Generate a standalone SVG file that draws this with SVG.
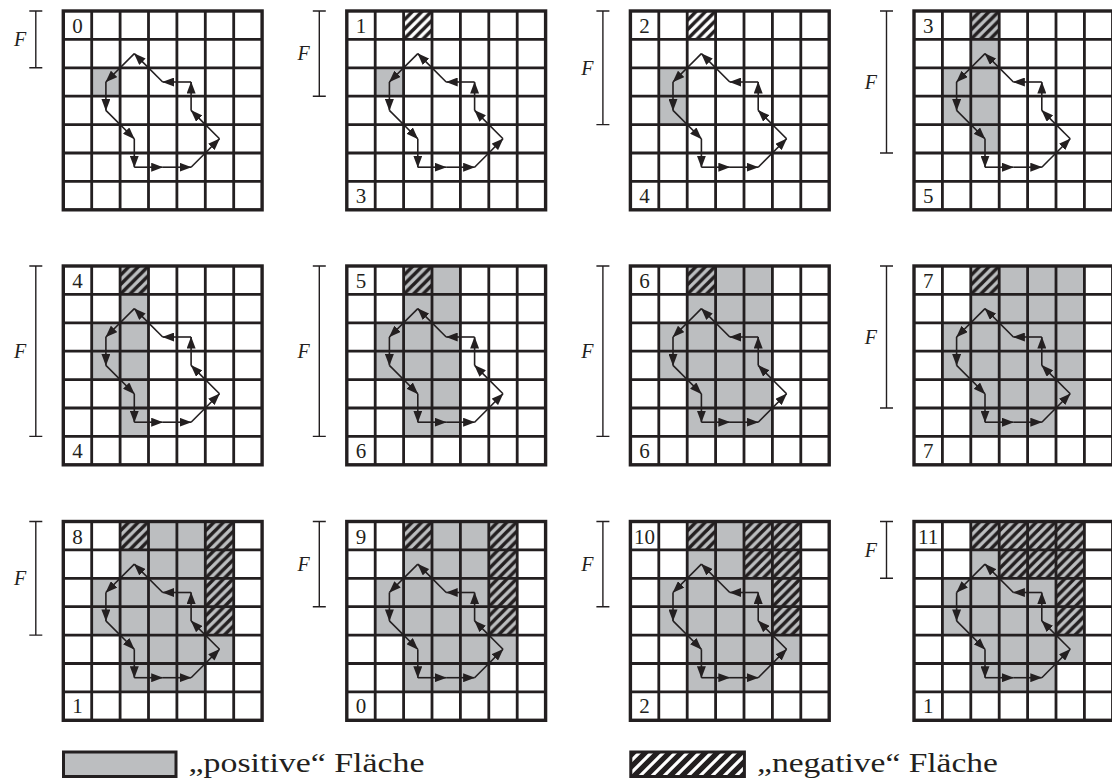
<svg xmlns="http://www.w3.org/2000/svg" xmlns:xlink="http://www.w3.org/1999/xlink" width="1112" height="778" viewBox="0 0 1112 778">
<style>
.g{fill:#bcbec0}
.h{fill:url(#hatch)}
.num{font-family:"Liberation Serif","DejaVu Serif",serif;font-size:21px;fill:#231f20;text-anchor:middle}
.fl{font-family:"Liberation Serif","DejaVu Serif",serif;font-style:italic;font-size:20px;fill:#231f20;text-anchor:end}
.bar{stroke:#231f20;stroke-width:1.4;fill:none}
.arr{stroke:#231f20;stroke-width:1.6;fill:none;marker-end:url(#ah)}
.leg{font-family:"Liberation Serif","DejaVu Serif",serif;font-size:27px;fill:#231f20}
</style>
<defs>
<marker id="ah" viewBox="0 0 12 9" refX="11.5" refY="4.5" markerWidth="12" markerHeight="9" markerUnits="userSpaceOnUse" orient="auto">
<path d="M0,0 L12,4.5 L0,9 z" fill="#231f20"/>
</marker>
<pattern id="hatch" patternUnits="userSpaceOnUse" width="9.4667" height="9.4667">
<path d="M-2.4,2.4 L2.4,-2.4 M0,9.4667 L9.4667,0 M7.07,11.87 L11.87,7.07" stroke="#231f20" stroke-width="3.5"/>
</pattern>
<pattern id="hatchL" patternUnits="userSpaceOnUse" width="12" height="12">
<rect width="12" height="12" fill="#231f20"/>
<path d="M-3,3 L3,-3 M0,12 L12,0 M9,15 L15,9" stroke="#ffffff" stroke-width="3.2"/>
</pattern>
<g id="grid">
<rect x="0" y="0" width="198.8" height="198.8" fill="none" stroke="#231f20" stroke-width="3.4"/>
<path d="M28.4,0V198.8M56.8,0V198.8M85.2,0V198.8M113.6,0V198.8M142,0V198.8M170.4,0V198.8M0,28.4H198.8M0,56.8H198.8M0,85.2H198.8M0,113.6H198.8M0,142H198.8M0,170.4H198.8" stroke="#231f20" stroke-width="2.8" fill="none"/>
</g>
<g id="contour">
<path class="arr" d="M71,42.6 L42.6,71"/>
<path class="arr" d="M42.6,71 L42.6,99.4"/>
<path class="arr" d="M42.6,99.4 L71,127.8"/>
<path class="arr" d="M71,127.8 L71,156.2"/>
<path class="arr" d="M71,156.2 L99.4,156.2"/>
<path class="arr" d="M99.4,156.2 L127.8,156.2"/>
<path class="arr" d="M127.8,156.2 L156.2,127.8"/>
<path class="arr" d="M156.2,127.8 L127.8,99.4"/>
<path class="arr" d="M127.8,99.4 L127.8,71"/>
<path class="arr" d="M127.8,71 L99.4,71"/>
<path class="arr" d="M99.4,71 L71,42.6"/>
</g>
</defs>
<rect width="1112" height="778" fill="#ffffff"/>

<g id="panel-0" transform="translate(63.3,11)">
<rect class="g" x="28.4" y="56.8" width="28.4" height="28.4"/>
<use href="#grid"/>
<text class="num" x="14.2" y="22">0</text>
<path class="bar" d="M-27.5,0V56.8M-34,0H-21M-34,56.8H-21"/>
<text class="fl" x="-37" y="35.1">F</text>
</g>

<g id="panel-1" transform="translate(346.8,11)">
<rect class="g" x="28.4" y="56.8" width="28.4" height="28.4"/>
<rect class="h" x="56.8" y="0" width="28.4" height="28.4"/>
<use href="#grid"/>
<text class="num" x="14.2" y="22">1</text>
<text class="num" x="14.2" y="191.5">3</text>
<path class="bar" d="M-27.5,0V85.2M-34,0H-21M-34,85.2H-21"/>
<text class="fl" x="-37" y="49.3">F</text>
</g>

<g id="panel-2" transform="translate(630.4,11)">
<rect class="g" x="28.4" y="56.8" width="28.4" height="56.8"/>
<rect class="h" x="56.8" y="0" width="28.4" height="28.4"/>
<use href="#grid"/>
<text class="num" x="14.2" y="22">2</text>
<text class="num" x="14.2" y="191.5">4</text>
<path class="bar" d="M-27.5,0V113.6M-34,0H-21M-34,113.6H-21"/>
<text class="fl" x="-37" y="63.5">F</text>
</g>

<g id="panel-3" transform="translate(914,11)">
<rect class="g" x="28.4" y="56.8" width="28.4" height="56.8"/>
<rect class="g" x="56.8" y="0" width="28.4" height="142"/>
<rect class="h" x="56.8" y="0" width="28.4" height="28.4"/>
<use href="#grid"/>
<text class="num" x="14.2" y="22">3</text>
<text class="num" x="14.2" y="191.5">5</text>
<path class="bar" d="M-27.5,0V142M-34,0H-21M-34,142H-21"/>
<text class="fl" x="-37" y="77.7">F</text>
</g>

<g id="panel-4" transform="translate(63.3,266)">
<rect class="g" x="28.4" y="56.8" width="28.4" height="56.8"/>
<rect class="g" x="56.8" y="0" width="28.4" height="170.4"/>
<rect class="h" x="56.8" y="0" width="28.4" height="28.4"/>
<use href="#grid"/>
<text class="num" x="14.2" y="22">4</text>
<text class="num" x="14.2" y="191.5">4</text>
<path class="bar" d="M-27.5,0V170.4M-34,0H-21M-34,170.4H-21"/>
<text class="fl" x="-37" y="91.9">F</text>
</g>

<g id="panel-5" transform="translate(346.8,266)">
<rect class="g" x="28.4" y="56.8" width="28.4" height="56.8"/>
<rect class="g" x="56.8" y="0" width="56.8" height="170.4"/>
<rect class="h" x="56.8" y="0" width="28.4" height="28.4"/>
<use href="#grid"/>
<text class="num" x="14.2" y="22">5</text>
<text class="num" x="14.2" y="191.5">6</text>
<path class="bar" d="M-27.5,0V170.4M-34,0H-21M-34,170.4H-21"/>
<text class="fl" x="-37" y="91.9">F</text>
</g>

<g id="panel-6" transform="translate(630.4,266)">
<rect class="g" x="28.4" y="56.8" width="28.4" height="56.8"/>
<rect class="g" x="56.8" y="0" width="85.2" height="170.4"/>
<rect class="h" x="56.8" y="0" width="28.4" height="28.4"/>
<use href="#grid"/>
<text class="num" x="14.2" y="22">6</text>
<text class="num" x="14.2" y="191.5">6</text>
<path class="bar" d="M-27.5,0V170.4M-34,0H-21M-34,170.4H-21"/>
<text class="fl" x="-37" y="91.9">F</text>
</g>

<g id="panel-7" transform="translate(914,266)">
<rect class="g" x="28.4" y="56.8" width="28.4" height="56.8"/>
<rect class="g" x="56.8" y="0" width="85.2" height="170.4"/>
<rect class="g" x="142" y="0" width="28.4" height="142"/>
<rect class="h" x="56.8" y="0" width="28.4" height="28.4"/>
<use href="#grid"/>
<text class="num" x="14.2" y="22">7</text>
<text class="num" x="14.2" y="191.5">7</text>
<path class="bar" d="M-27.5,0V142M-34,0H-21M-34,142H-21"/>
<text class="fl" x="-37" y="77.7">F</text>
</g>

<g id="panel-8" transform="translate(63.3,521.5)">
<rect class="g" x="28.4" y="56.8" width="28.4" height="56.8"/>
<rect class="g" x="56.8" y="0" width="85.2" height="170.4"/>
<rect class="g" x="142" y="0" width="28.4" height="142"/>
<rect class="h" x="56.8" y="0" width="28.4" height="28.4"/>
<rect class="h" x="142" y="0" width="28.4" height="113.6"/>
<use href="#grid"/>
<text class="num" x="14.2" y="22">8</text>
<text class="num" x="14.2" y="191.5">1</text>
<path class="bar" d="M-27.5,0V113.6M-34,0H-21M-34,113.6H-21"/>
<text class="fl" x="-37" y="63.5">F</text>
</g>

<g id="panel-9" transform="translate(346.8,521.5)">
<rect class="g" x="28.4" y="56.8" width="28.4" height="56.8"/>
<rect class="g" x="56.8" y="0" width="85.2" height="170.4"/>
<rect class="g" x="142" y="0" width="28.4" height="142"/>
<rect class="h" x="56.8" y="0" width="28.4" height="28.4"/>
<rect class="h" x="142" y="0" width="28.4" height="113.6"/>
<use href="#grid"/>
<text class="num" x="14.2" y="22">9</text>
<text class="num" x="14.2" y="191.5">0</text>
<path class="bar" d="M-27.5,0V85.2M-34,0H-21M-34,85.2H-21"/>
<text class="fl" x="-37" y="49.3">F</text>
</g>

<g id="panel-10" transform="translate(630.4,521.5)">
<rect class="g" x="28.4" y="56.8" width="28.4" height="56.8"/>
<rect class="g" x="56.8" y="0" width="85.2" height="170.4"/>
<rect class="g" x="142" y="0" width="28.4" height="142"/>
<rect class="h" x="56.8" y="0" width="28.4" height="28.4"/>
<rect class="h" x="113.6" y="0" width="28.4" height="56.8"/>
<rect class="h" x="142" y="0" width="28.4" height="113.6"/>
<use href="#grid"/>
<text class="num" x="14.2" y="22">10</text>
<text class="num" x="14.2" y="191.5">2</text>
<path class="bar" d="M-27.5,0V85.2M-34,0H-21M-34,85.2H-21"/>
<text class="fl" x="-37" y="49.3">F</text>
</g>

<g id="panel-11" transform="translate(914,521.5)">
<rect class="g" x="28.4" y="56.8" width="28.4" height="56.8"/>
<rect class="g" x="56.8" y="0" width="85.2" height="170.4"/>
<rect class="g" x="142" y="0" width="28.4" height="142"/>
<rect class="h" x="56.8" y="0" width="28.4" height="28.4"/>
<rect class="h" x="85.2" y="0" width="28.4" height="56.8"/>
<rect class="h" x="113.6" y="0" width="28.4" height="56.8"/>
<rect class="h" x="142" y="0" width="28.4" height="113.6"/>
<use href="#grid"/>
<text class="num" x="14.2" y="22">11</text>
<text class="num" x="14.2" y="191.5">1</text>
<path class="bar" d="M-27.5,0V56.8M-34,0H-21M-34,56.8H-21"/>
<text class="fl" x="-37" y="35.1">F</text>
</g>

<g id="connectors">
<use href="#contour" transform="translate(63.3,11)"/>
<use href="#contour" transform="translate(346.8,11)"/>
<use href="#contour" transform="translate(630.4,11)"/>
<use href="#contour" transform="translate(914,11)"/>
<use href="#contour" transform="translate(63.3,266)"/>
<use href="#contour" transform="translate(346.8,266)"/>
<use href="#contour" transform="translate(630.4,266)"/>
<use href="#contour" transform="translate(914,266)"/>
<use href="#contour" transform="translate(63.3,521.5)"/>
<use href="#contour" transform="translate(346.8,521.5)"/>
<use href="#contour" transform="translate(630.4,521.5)"/>
<use href="#contour" transform="translate(914,521.5)"/>
</g>

<g id="legend-positive">
<rect x="63.5" y="752" width="112.5" height="24.5" fill="#bcbec0" stroke="#231f20" stroke-width="3"/>
<text class="leg" x="188.5" y="771.5" textLength="236" lengthAdjust="spacingAndGlyphs">„positive“ Fläche</text>
</g>
<g id="legend-negative">
<rect x="630.8" y="752" width="113.6" height="24.5" fill="url(#hatchL)" stroke="#231f20" stroke-width="3"/>
<text class="leg" x="757" y="771.5" textLength="241" lengthAdjust="spacingAndGlyphs">„negative“ Fläche</text>
</g>
</svg>
